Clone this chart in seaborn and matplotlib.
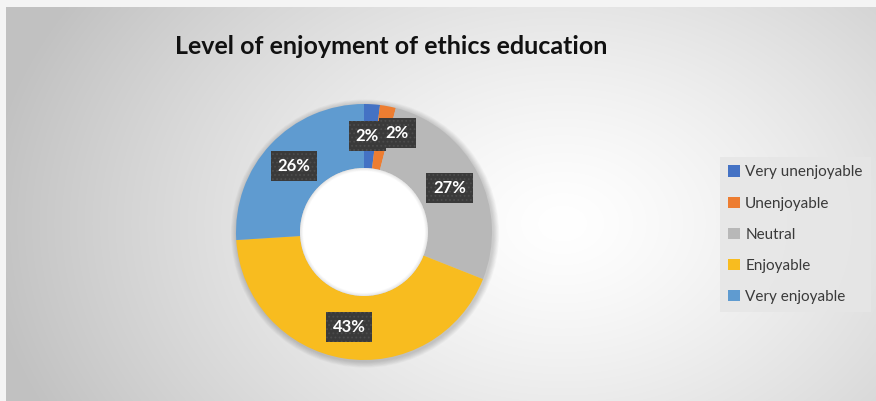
import numpy as np
import matplotlib
matplotlib.use("Agg")
import matplotlib.pyplot as plt
from matplotlib.patches import Circle, Wedge
import seaborn as sns

# Survey responses: share of students per enjoyment level (percent)
categories = ["Very unenjoyable", "Unenjoyable", "Neutral", "Enjoyable", "Very enjoyable"]
shares = [2, 2, 27, 43, 26]
slice_colors = ["#4472C4", "#ED7D31", "#B8B8B8", "#F8BC1F", "#5F9BD0"]
title_text = "Level of enjoyment of ethics education"

sns.set_theme(style="white")
plt.rcParams["font.family"] = ["Lato", "DejaVu Sans"]
plt.rcParams["hatch.linewidth"] = 0.8

W, H = 876, 401
fig = plt.figure(figsize=(W / 100, H / 100), dpi=100)
fig.patch.set_facecolor("#f4f4f4")

# Radial gradient backdrop of the chart area
bg = fig.add_axes([6 / W, 0, 1 - 6 / W, 1 - 7 / H])
bg.set_axis_off()
yy, xx = np.mgrid[0:H, 0:W]
cx, cy = 560, 220
d = np.sqrt(((xx - cx) / 580.0) ** 2 + ((yy - cy) / 430.0) ** 2)
t = np.clip(d, 0, 1) ** 1.3
lo, hi = 1.0, 0.76
shade = hi + (lo - hi) * (1 - t)
img = np.dstack([shade, shade, shade])
bg.imshow(img, extent=[0, 1, 0, 1], aspect="auto", interpolation="bilinear")
bg.set_xlim(0, 1)
bg.set_ylim(0, 1)

# Donut
R = 128
cxp, cyp = 364, 232
ax = fig.add_axes([(cxp - R * 1.2) / W, (H - cyp - R * 1.2) / H, 2.4 * R / W, 2.4 * R / H])
ax.set_axis_off()

# soft shadow around the ring
for k in range(8):
    r = 1.0 + 0.006 * (k + 1)
    ax.add_patch(Circle((0.008, -0.012), r, facecolor="black", edgecolor="none",
                        alpha=0.025, zorder=0))

palette = sns.color_palette(slice_colors)
wedges, _ = ax.pie(shares, colors=palette, startangle=90, counterclock=False,
                   radius=1.0, wedgeprops=dict(width=0.5, linewidth=0))
for w in wedges:
    w.set_zorder(2)

# inner hole with a faint inner shadow
ax.add_patch(Circle((0, 0), 0.5, facecolor="white", edgecolor="none", zorder=3))
for k in range(5):
    ax.add_patch(Wedge((0, 0), 0.5, 0, 360, width=0.005 * (k + 1), facecolor="black",
                       edgecolor="none", alpha=0.02, zorder=4))

ax.set_xlim(-1.2, 1.2)
ax.set_ylim(-1.2, 1.2)
ax.set_aspect("equal")

# Data labels at the ring middle, nudged where the small slices collide
cum = np.cumsum([0] + shares[:-1])
label_offsets = {0: (-0.02, 0.0), 1: (0.12, 0.04)}
for i, (c0, v) in enumerate(zip(cum, shares)):
    mid = (c0 + v / 2) / 100 * 2 * np.pi
    x = 0.75 * np.sin(mid)
    y = 0.75 * np.cos(mid)
    dx, dy = label_offsets.get(i, (0, 0))
    ax.text(x + dx, y + dy, f"{v}%", ha="center", va="center", color="white",
            fontsize=12, fontweight="bold", zorder=6,
            bbox=dict(boxstyle="square,pad=0.42", facecolor="#3a3a3a",
                      edgecolor="#4c4c4c", linewidth=0, hatch="...."))

fig.text(391 / W, 1 - 46 / H, title_text, ha="center", va="center",
         fontsize=18, fontweight="bold", color="#111111")

leg = fig.legend(wedges, categories, loc="upper left",
                 bbox_to_anchor=(720 / W, 1 - 157 / H),
                 frameon=True, fancybox=False, fontsize=11,
                 handlelength=0.75, handleheight=0.75, handletextpad=0.35,
                 labelspacing=1.12, borderpad=0.55, borderaxespad=0)
leg.get_frame().set_facecolor("#e6e6e6")
leg.get_frame().set_edgecolor("none")
leg.get_frame().set_alpha(0.85)
for txt in leg.get_texts():
    txt.set_color("#3a3a3a")

fig.savefig("out.png", dpi=100)
